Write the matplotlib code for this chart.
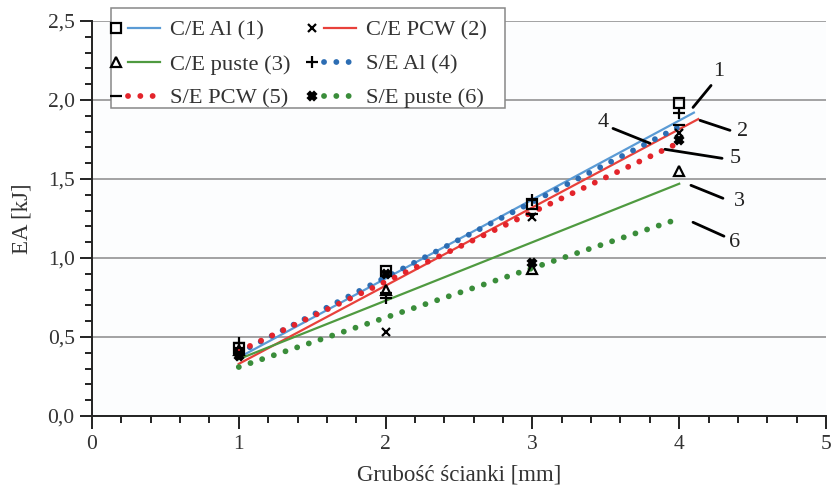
import numpy as np
import matplotlib
matplotlib.use('Agg')
import matplotlib.pyplot as plt
from matplotlib.lines import Line2D
from matplotlib.patches import Rectangle
from matplotlib.legend_handler import HandlerBase
from matplotlib.ticker import MultipleLocator, FuncFormatter

plt.rcParams['font.family'] = ['Liberation Serif', 'DejaVu Serif']

# measured energy absorption per wall thickness
thickness = [1, 2, 3, 4]
ea_ce_al = [0.43, 0.92, 1.34, 1.98]
ea_ce_pcw = [0.40, 0.53, 1.26, 1.79]
ea_ce_puste = [0.42, 0.80, 0.93, 1.55]
ea_se_al = [0.46, 0.75, 1.37, 1.92]
ea_se_pcw = [0.43, 0.78, 1.28, 1.84]
ea_se_puste = [0.38, 0.90, 0.97, 1.75]

labels = ['C/E Al (1)', 'C/E PCW (2)', 'C/E puste (3)',
          'S/E Al (4)', 'S/E PCW (5)', 'S/E puste (6)']

# linear trend lines: EA = slope * t + intercept, drawn from t = 1 to trend_end
trend_slope = [0.500, 0.495, 0.370, 0.477, 0.440, 0.313]
trend_intercept = [-0.130, -0.165, -0.010, -0.077, -0.030, -0.003]
trend_end = [4.10, 4.13, 4.00, 4.00, 4.00, 4.00]

series = [ea_ce_al, ea_ce_pcw, ea_ce_puste, ea_se_al, ea_se_pcw, ea_se_puste]
markers = ['s', 'x', '^', '+', '_', 'X']
marker_sizes = [7, 6, 7, 9, 9, 6]
colors = ['#5b9bd5', '#e8413b', '#4f9a40', '#2c6db3', '#e3242b', '#3a8d3a']
dotted = [False, False, False, True, True, True]


class MarkerLineHandler(HandlerBase):
    """Legend entry: marker on the left, trend line to its right."""
    def create_artists(self, legend, orig_handle, xdescent, ydescent,
                       width, height, fontsize, trans):
        mk, ln = orig_handle
        y = height / 2 - ydescent
        x0 = -xdescent
        m = Line2D([x0 - 1], [y])
        m.update_from(mk)
        m.set_linestyle('none')
        l = Line2D([x0 + 0.26 * width, x0 + width], [y, y])
        l.update_from(ln)
        l.set_marker('none')
        m.set_transform(trans)
        l.set_transform(trans)
        return [l, m]


fig = plt.figure(figsize=(8.32, 4.9), dpi=100)
ax = fig.add_axes([92 / 832, 1 - 416 / 490, 734 / 832, 395 / 490])
ax.set_facecolor('#fcfdfe')

handles = []
line_objs = []
for i in range(6):
    t = np.array([1.0, trend_end[i]])
    y = trend_slope[i] * t + trend_intercept[i]
    if dotted[i]:
        ln, = ax.plot(t, y, color=colors[i], lw=4.2, linestyle=(0, (0.01, 2.1)),
                      dash_capstyle='round', zorder=3)
    else:
        ln, = ax.plot(t, y, color=colors[i], lw=1.6, zorder=2)
    line_objs.append(ln)

for i in range(6):
    mk, = ax.plot(thickness, series[i], linestyle='none', marker=markers[i],
                  markersize=marker_sizes[i],
                  markerfacecolor='none' if markers[i] in ('s', '^') else 'black',
                  markeredgecolor='black', markeredgewidth=1.6, zorder=5)
    handles.append((mk, line_objs[i]))

ax.set_xlim(0, 5)
ax.set_ylim(0, 2.5)
ax.xaxis.set_major_locator(MultipleLocator(1))
ax.xaxis.set_minor_locator(MultipleLocator(0.2))
ax.yaxis.set_major_locator(MultipleLocator(0.5))
ax.yaxis.set_minor_locator(MultipleLocator(0.1))
ax.yaxis.set_major_formatter(FuncFormatter(lambda v, p: f'{v:.1f}'.replace('.', ',')))
ax.tick_params(which='major', length=9, width=1.4, color='#222', labelsize=15.5,
               labelcolor='#333', direction='out')
ax.tick_params(which='minor', length=5, width=1.4, color='#222', direction='out')
ax.tick_params(axis='x', which='major', pad=5)

ax.grid(axis='y', which='major', color='#8a8a8a', lw=1.1)
ax.set_axisbelow(True)
for s in ['top', 'right']:
    ax.spines[s].set_visible(False)
for s in ['left', 'bottom']:
    ax.spines[s].set_color('#222')
    ax.spines[s].set_linewidth(1.4)

ax.set_xlabel('Grubość ścianki [mm]', fontsize=16.5, color='#333', labelpad=7)
ax.set_ylabel('EA [kJ]', fontsize=16.5, color='#333', labelpad=11)

# leader lines pointing at each trend line
callouts = [
    ('1', (4.094, 1.953), (4.217, 2.092), (4.27, 2.18)),
    ('2', (4.142, 1.871), (4.346, 1.808), (4.43, 1.80)),
    ('3', (4.080, 1.460), (4.298, 1.378), (4.41, 1.36)),
    ('4', (3.549, 1.820), (3.801, 1.726), (3.48, 1.86)),
    ('5', (3.903, 1.688), (4.292, 1.631), (4.38, 1.63)),
    ('6', (4.094, 1.226), (4.305, 1.138), (4.38, 1.10)),
]
for txt, p0, p1, pt in callouts:
    ax.annotate('', xy=p0, xytext=p1,
                arrowprops=dict(arrowstyle='-', color='black', lw=2, shrinkA=0, shrinkB=0))
    ax.text(pt[0], pt[1], txt, fontsize=16, color='#222', ha='center', va='center')

# legend box drawn separately so it can be wider than its entries
box = Rectangle((111 / 832, 1 - 108 / 490), 394 / 832, 100 / 490,
                transform=fig.transFigure, facecolor='white', edgecolor='#888888',
                lw=1.1, zorder=6, clip_on=False)
ax.add_artist(box)

# entries read row by row: (1, 2), (3, 4), (5, 6)
order = [0, 2, 4, 1, 3, 5]
leg = ax.legend([handles[i] for i in order], [labels[i] for i in order],
                ncol=2, loc='upper left',
                bbox_to_anchor=(106 / 832, 1 - 9 / 490), bbox_transform=fig.transFigure,
                handler_map={tuple: MarkerLineHandler()}, fontsize=16.2,
                handlelength=1.9, handletextpad=0.45, columnspacing=1.0,
                labelspacing=0.58, borderpad=0.49, borderaxespad=0,
                frameon=False)
leg.set_zorder(7)
for t in leg.get_texts():
    t.set_color('#333')

fig.savefig('out.png', dpi=100)
